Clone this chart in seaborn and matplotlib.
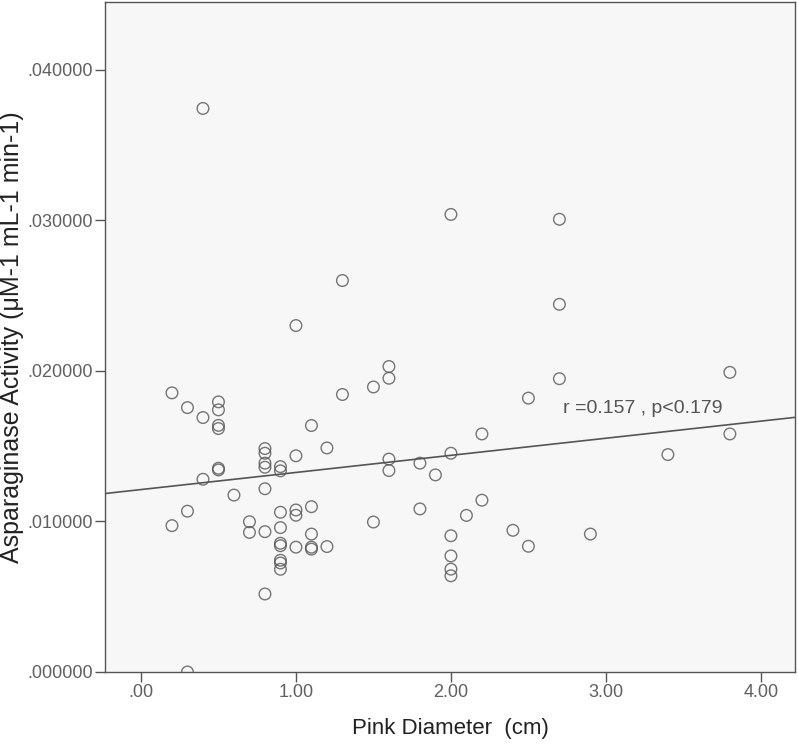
import matplotlib
matplotlib.use("Agg")
import matplotlib.pyplot as plt
from matplotlib.ticker import FuncFormatter, FixedLocator
import seaborn as sns
import pandas as pd

pink_diameter = [
    0.2, 0.2, 0.3, 0.3, 0.3, 0.4, 0.4, 0.4,
    0.5, 0.5, 0.5, 0.5, 0.5, 0.5, 0.6, 0.7, 0.7,
    0.8, 0.8, 0.8, 0.8, 0.8, 0.8, 0.8,
    0.9, 0.9, 0.9, 0.9, 0.9, 0.9, 0.9, 0.9, 0.9,
    1.0, 1.0, 1.0, 1.0, 1.0,
    1.1, 1.1, 1.1, 1.1, 1.1, 1.2, 1.2, 1.3, 1.3,
    1.5, 1.5, 1.6, 1.6, 1.6, 1.6, 1.8, 1.8, 1.9,
    2.0, 2.0, 2.0, 2.0, 2.0, 2.0, 2.1, 2.2, 2.2,
    2.4, 2.5, 2.5, 2.7, 2.7, 2.7, 2.9, 3.4, 3.8, 3.8,
]
activity = [
    0.01854, 0.00972, 0.01756, 0.01068, 0.00000, 0.03743, 0.01690, 0.01280,
    0.01794, 0.01741, 0.01638, 0.01617, 0.01353, 0.01342, 0.01175, 0.00998, 0.00927,
    0.01484, 0.01453, 0.01387, 0.01360, 0.01217, 0.00932, 0.00518,
    0.01364, 0.01336, 0.01061, 0.00959, 0.00855, 0.00839, 0.00742, 0.00724, 0.00682,
    0.02301, 0.01436, 0.01076, 0.01041, 0.00829,
    0.01637, 0.01098, 0.00916, 0.00829, 0.00816, 0.01488, 0.00833, 0.02600, 0.01843,
    0.01893, 0.00996, 0.02029, 0.01951, 0.01414, 0.01338, 0.01387, 0.01083, 0.01309,
    0.03039, 0.01453, 0.00905, 0.00771, 0.00683, 0.00639, 0.01040, 0.01581, 0.01141,
    0.00941, 0.01819, 0.00835, 0.03007, 0.02442, 0.01948, 0.00916, 0.01444, 0.01990, 0.01581,
]
x_ticks = [0.0, 1.0, 2.0, 3.0, 4.0]
y_ticks = [0.00, 0.01, 0.02, 0.03, 0.04]
annotation = "r =0.157 , p<0.179"
x_label = "Pink Diameter  (cm)"
y_label = "Asparaginase Activity (\u03bcM-1 mL-1 min-1)"

df = pd.DataFrame({"x": pink_diameter, "y": activity})

sns.set_style("white")
plt.rcParams["font.family"] = ["Liberation Sans", "DejaVu Sans"]

fig = plt.figure(figsize=(7.98, 7.44), dpi=100)
ax = fig.add_axes([0.1316, 0.0968, 0.8646, 0.9005])
ax.set_facecolor("#f7f7f7")
ax.set_xlim(-0.232, 4.22)
ax.set_ylim(0.0, 0.0445)

sns.regplot(data=df, x="x", y="y", ax=ax, ci=None, truncate=False,
            scatter_kws=dict(s=70, facecolors="none", edgecolors="#555555", linewidths=1.0, clip_on=True),
            line_kws=dict(color="#555555", lw=1.2))
ax.set_xlim(-0.232, 4.22)
ax.set_ylim(0.0, 0.0445)

ax.xaxis.set_major_locator(FixedLocator(x_ticks))
ax.yaxis.set_major_locator(FixedLocator(y_ticks))

def fmt_x(v, pos):
    s = f"{v:.2f}"
    return s[1:] if s.startswith("0") else s

def fmt_y(v, pos):
    s = f"{v:.6f}"
    return s[1:] if s.startswith("0") else s

ax.xaxis.set_major_formatter(FuncFormatter(fmt_x))
ax.yaxis.set_major_formatter(FuncFormatter(fmt_y))

ax.tick_params(axis="both", which="major", direction="out", length=7, width=1,
               color="#555555", labelcolor="#606060", labelsize=13, pad=2,
               bottom=True, left=True)

for sp in ax.spines.values():
    sp.set_color("#555555")
    sp.set_linewidth(1.0)

ax.set_xlabel(x_label, fontsize=16, color="#222222", labelpad=12)
ax.set_ylabel(y_label, fontsize=18, color="#222222", labelpad=8)
ax.yaxis.set_label_coords(-0.117, 0.5)

ax.text(2.72, 0.0175, annotation, fontsize=14, color="#555555", va="center", ha="left")

fig.savefig("out.png", dpi=100)
